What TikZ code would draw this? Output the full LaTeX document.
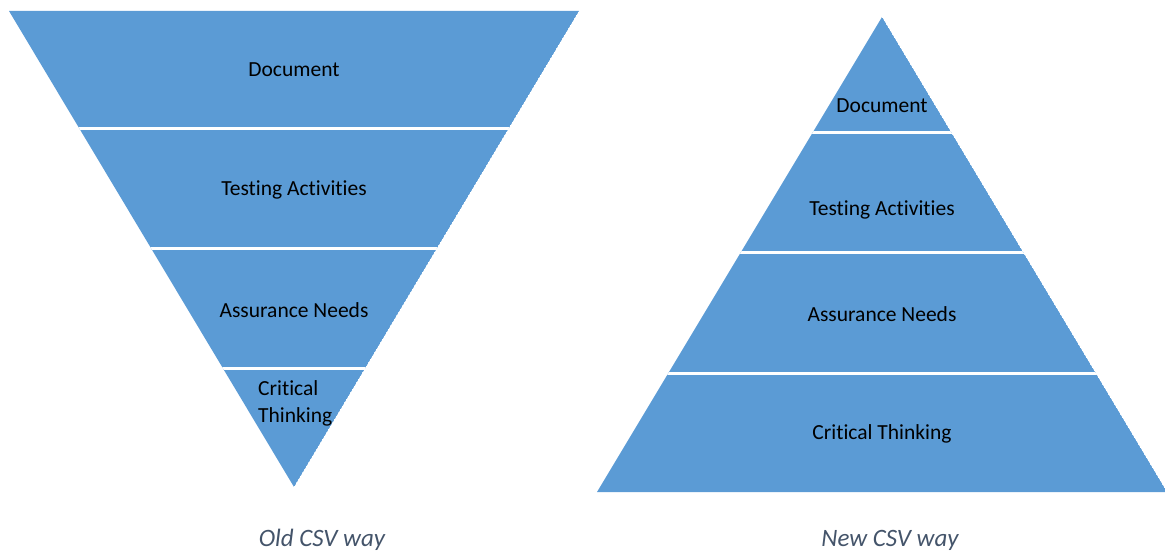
\documentclass[tikz,border=0pt]{standalone}
\usepackage{fontspec}
\setmainfont{Carlito}[Ligatures=NoCommon]
\definecolor{band}{HTML}{5B9BD5}
\definecolor{captiontext}{HTML}{44546A}
\begin{document}
\begin{tikzpicture}[x=1pt,y=-1pt,
  layer/.style={font=\fontsize{21.5}{27}\selectfont, text=black, inner sep=0pt},
  caption/.style={font=\fontsize{25}{30}\selectfont\itshape, text=captiontext, inner sep=0pt},
  gap/.style={white, line width=3pt}]
\useasboundingbox (0,0) rectangle (1165,553);

% Inverted pyramid
\begin{scope}
  \clip (9,11) -- (579,11) -- (294,487) -- cycle;
  \fill[band] (9,11) -- (579,11) -- (294,487) -- cycle;
  \foreach \y in {129,249,369} \draw[gap] (0,\y) -- (600,\y);
\end{scope}
\node[layer] (oldDoc) at (294,70) {Document};
\node[layer] (oldTest) at (294,190) {Testing Activities};
\node[layer] (oldAssure) at (294,310) {Assurance Needs};
\node[layer, align=left, anchor=west] (oldCrit) at (258,403) {Critical\\Thinking};
\node[caption] (oldCap) at (322,540) {Old CSV way};

% Upright pyramid
\begin{scope}
  \clip (882,17) -- (1167,492) -- (597,492) -- cycle;
  \fill[band] (882,17) -- (1167,492) -- (597,492) -- cycle;
  \foreach \y in {133,253,373} \draw[gap] (580,\y) -- (1170,\y);
\end{scope}
\node[layer] (newDoc) at (882,106) {Document};
\node[layer] (newTest) at (882,210) {Testing Activities};
\node[layer] (newAssure) at (882,314) {Assurance Needs};
\node[layer] (newCrit) at (882,434) {Critical Thinking};
\node[caption] (newCap) at (890,540) {New CSV way};
\end{tikzpicture}
\end{document}
